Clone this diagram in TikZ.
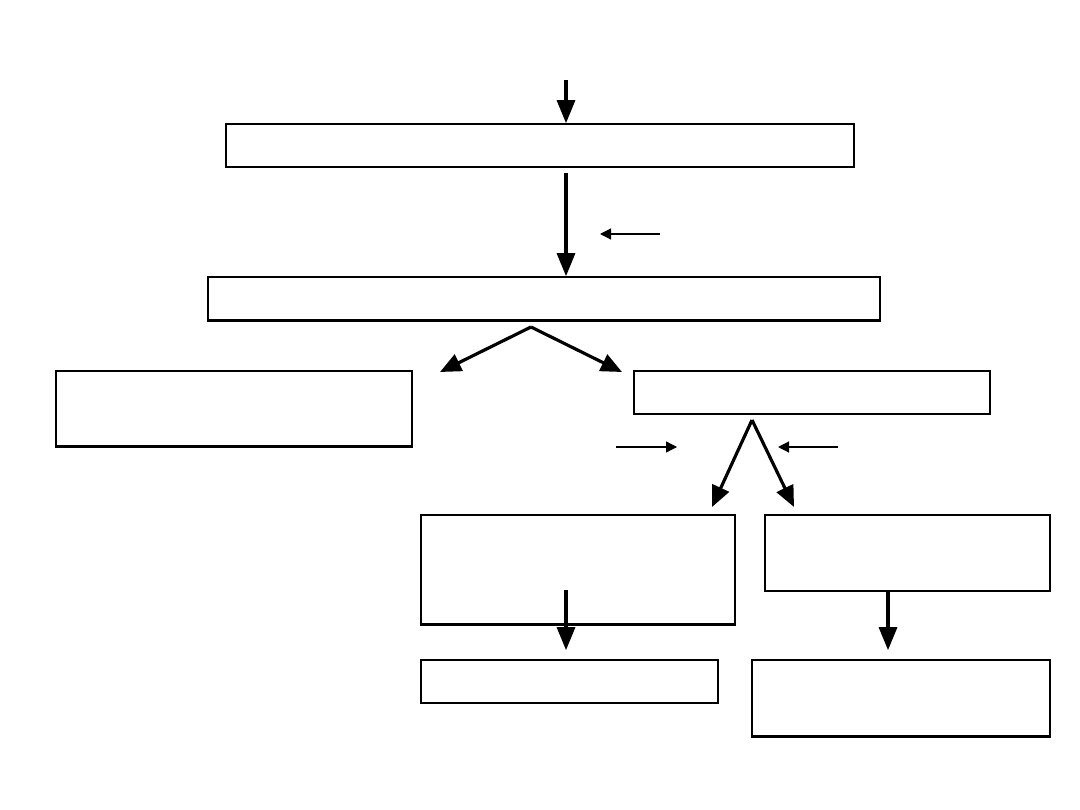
\documentclass[tikz,border=0pt]{standalone}
\usepackage{tikz}
\usetikzlibrary{arrows.meta, positioning}

\begin{document}
\begin{tikzpicture}[
    x=0.01cm, y=-0.01cm,
    box/.style = {
        rectangle,
        draw,
        line width=0.45pt,
        inner sep=0pt
    },
    base/.style = {line width=0.8pt},
    arrow/.style = {-{Triangle[length=0.23cm, width=0.18cm]}, line width=0.9pt},
    slant/.style = {-{Triangle[length=0.21cm, width=0.18cm]}, line width=0.9pt},
    thin arrow/.style = {-{Triangle[length=0.11cm, width=0.11cm]}, line width=0.35pt}
]
\useasboundingbox (0,0) rectangle (1080,810);

%% Boxes
\node[box, minimum width=6.28cm, minimum height=0.43cm] (b1) at (540,145.5) {};
\node[box, minimum width=6.72cm, minimum height=0.43cm] (b2) at (544,298.5) {};
\node[box, minimum width=3.56cm, minimum height=0.75cm] (b3) at (234,408.5) {};
\node[box, minimum width=3.56cm, minimum height=0.43cm] (b4) at (812,392.5) {};
\node[box, minimum width=3.14cm, minimum height=1.09cm] (b5) at (578,569.5) {};
\node[box, minimum width=2.85cm, minimum height=0.76cm] (b6) at (907.5,553) {};
\node[box, minimum width=2.97cm, minimum height=0.43cm] (b7) at (569.5,681.5) {};
\node[box, minimum width=2.98cm, minimum height=0.76cm] (b8) at (901,698) {};

%% Heavier bottom edges
\draw[base] (b2.south west) -- (b2.south east);
\draw[base] (b3.south west) -- (b3.south east);
\draw[base] (b5.south west) -- (b5.south east);
\draw[base] (b8.south west) -- (b8.south east);

%% Connector points
\coordinate (in)  at (566,80);
\coordinate (s1)  at (566,173);
\coordinate (f1)  at (531,327);
\coordinate (f1l) at (440,372);
\coordinate (f1r) at (622,372);
\coordinate (f2)  at (752,420);
\coordinate (f2l) at (712,507);
\coordinate (f2r) at (794,507);
\coordinate (s5)  at (566,590);
\coordinate (s6)  at (888,590);

%% Main arrows
\draw[arrow] (in) -- (in |- b1.north);
\draw[arrow] (s1) -- (s1 |- b2.north);
\draw[slant] (f1) -- (f1l);
\draw[slant] (f1) -- (f1r);
\draw[slant] (f2) -- (f2l);
\draw[slant] (f2) -- (f2r);
\draw[arrow] (s5) -- ([yshift=0.09cm]s5 |- b7.north);
\draw[arrow] (s6) -- ([yshift=0.09cm]s6 |- b8.north);

%% Side arrows
\coordinate (a1) at (660,234);
\coordinate (a2) at (600,234);
\coordinate (a3) at (616,447);
\coordinate (a4) at (677,447);
\coordinate (a5) at (838,447);
\coordinate (a6) at (778,447);
\draw[thin arrow] (a1) -- (a2);
\draw[thin arrow] (a3) -- (a4);
\draw[thin arrow] (a5) -- (a6);

\end{tikzpicture}
\end{document}
